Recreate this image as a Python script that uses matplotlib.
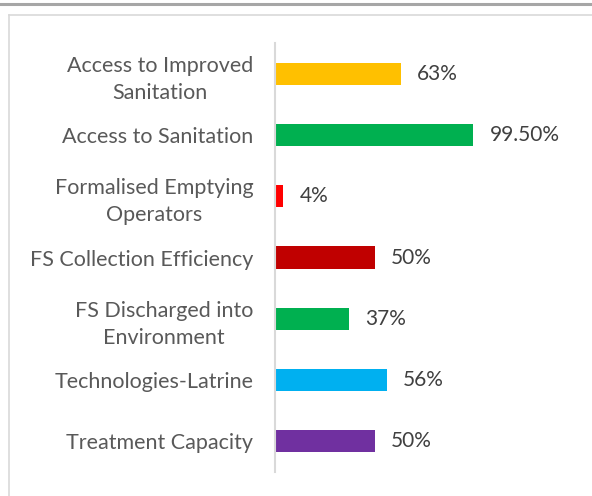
import matplotlib.pyplot as plt
from matplotlib.lines import Line2D

categories = ['Access to Improved\nSanitation', 'Access to Sanitation',
              'Formalised Emptying\nOperators', 'FS Collection Efficiency',
              'FS Discharged into\nEnvironment', 'Technologies-Latrine',
              'Treatment Capacity']
values = [63, 99.5, 4, 50, 37, 56, 50]
labels = ['63%', '99.50%', '4%', '50%', '37%', '56%', '50%']
colors = ['#FFC000', '#00B050', '#FF0000', '#C00000', '#00B050', '#00B0F0', '#7030A0']

plt.rcParams['font.family'] = ['Lato', 'DejaVu Sans']

fig = plt.figure(figsize=(5.92, 4.96), dpi=100)
W, H = 592, 496

# frame lines of the original screenshot
fig.add_artist(Line2D([0, 1], [1 - 3.5 / H, 1 - 3.5 / H], color='#a6a6a6', lw=2.2))
fig.add_artist(Line2D([9 / W, 9 / W], [0, 1 - 15 / H], color='#d9d9d9', lw=1.2))
fig.add_artist(Line2D([9 / W, 1], [1 - 15 / H, 1 - 15 / H], color='#d9d9d9', lw=1.2))

left, right = 275, 554
top, bottom = 43, 472
ax = fig.add_axes([left / W, 1 - bottom / H, (right - left) / W, (bottom - top) / H])

y = list(range(len(categories)))
ax.barh(y, values, height=0.36, color=colors)
ax.set_xlim(0, 140)
ax.set_ylim(len(categories) - 0.5, -0.5)

for yi, v, t in zip(y, values, labels):
    ax.text(v + 8.3, yi, t, va='center', ha='left', fontsize=15, color='#404040')

ax.set_yticks(y)
ax.set_yticklabels(categories, fontsize=15.5, color='#595959', multialignment='center',
                   linespacing=1.45)
ax.tick_params(axis='y', length=0, pad=15.5)
ax.set_xticks([])
for s in ['top', 'right', 'bottom']:
    ax.spines[s].set_visible(False)
ax.spines['left'].set_color('#d9d9d9')
ax.spines['left'].set_linewidth(1.5)

fig.savefig('out.png', dpi=100)
